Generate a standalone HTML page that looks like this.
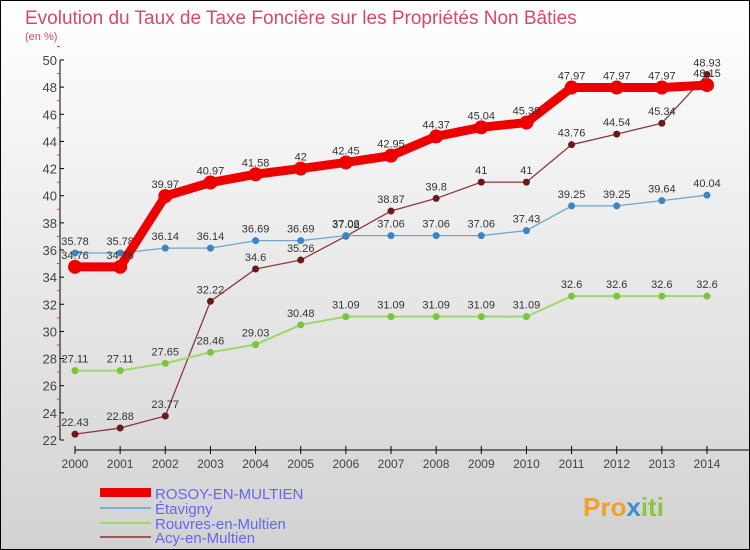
<!DOCTYPE html>
<html><head><meta charset="utf-8"><style>
body{margin:0;width:750px;height:550px;overflow:hidden}
svg{display:block;font-family:"Liberation Sans",sans-serif}
</style></head><body>
<svg id="c" width="750" height="550">
<defs><linearGradient id="bg" x1="0" y1="0" x2="0" y2="1"><stop offset="0" stop-color="#ffffff"/><stop offset="1" stop-color="#d2d2d2"/></linearGradient></defs>
<rect x="0.5" y="0.5" width="749" height="549" fill="url(#bg)" stroke="#000"/>
<text x="25" y="24" font-size="19" fill="#d9476a">Evolution du Taux de Taxe Foncière sur les Propriétés Non Bâties</text>
<text x="25" y="40" font-size="11" fill="#d9476a">(en %)</text>
<g id="axes"></g><g id="series"></g>
<g>
<rect x="100" y="488" width="51" height="9" fill="#e00"/>
<text x="155" y="499" font-size="15" fill="#6666ee">ROSOY-EN-MULTIEN</text>
<line x1="100" y1="508" x2="151" y2="508" stroke="#7aaed4" stroke-width="2"/>
<text x="155" y="514" font-size="15" fill="#6666ee">Étavigny</text>
<line x1="100" y1="523" x2="151" y2="523" stroke="#9bd96a" stroke-width="2"/>
<text x="155" y="529" font-size="15" fill="#6666ee">Rouvres-en-Multien</text>
<line x1="100" y1="537" x2="151" y2="537" stroke="#9a5a5a" stroke-width="2"/>
<text x="155" y="543" font-size="15" fill="#6666ee">Acy-en-Multien</text>
</g>
<text x="583" y="516" font-size="26" font-weight="bold" fill="#f0a030">Pro<tspan fill="#3a8fd0">x</tspan><tspan fill="#8cc63f">iti</tspan></text>
</svg>
<script>
const years=[2000,2001,2002,2003,2004,2005,2006,2007,2008,2009,2010,2011,2012,2013,2014];
const rosoy=[34.76,34.76,39.97,40.97,41.58,42,42.45,42.95,44.37,45.04,45.39,47.97,47.97,47.97,48.15];
const etavigny=[35.78,35.78,36.14,36.14,36.69,36.69,37.06,37.06,37.06,37.06,37.43,39.25,39.25,39.64,40.04];
const rouvres=[27.11,27.11,27.65,28.46,29.03,30.48,31.09,31.09,31.09,31.09,31.09,32.6,32.6,32.6,32.6];
const acy=[22.43,22.88,23.77,32.22,34.6,35.26,37.02,38.87,39.8,41,41,43.76,44.54,45.34,48.93];
const yTicks=[22,24,26,28,30,32,34,36,38,40,42,44,46,48,50];
const NS="http://www.w3.org/2000/svg";
const X=i=>75+i*(707-75)/(years.length-1);
const Y=v=>440-(v-22)*(380/28);
function el(t,a,p){const e=document.createElementNS(NS,t);for(const k in a)e.setAttribute(k,a[k]);p.appendChild(e);return e;}
const ax=document.getElementById('axes');
const ya=el('line',{x1:60,y1:60,x2:60,y2:440,stroke:'#000'},ax);


yTicks.forEach(v=>{el('line',{x1:60,y1:Y(v),x2:64,y2:Y(v),stroke:'#000'},ax);
el('line',{x1:57,y1:Y(v+1),x2:60,y2:Y(v+1),stroke:'#e33'},ax);
const t=el('text',{x:57,y:Y(v)+5,'font-size':13,'text-anchor':'end',fill:'#444'},ax);t.textContent=v;

});
const xa=el('line',{x1:75,y1:450,x2:750,y2:450,stroke:'#000'},ax);


years.forEach((y,i)=>{el('line',{x1:X(i),y1:446,x2:X(i),y2:454,stroke:'#000'},ax);
const t=el('text',{x:X(i),y:468,'font-size':12,'text-anchor':'middle',fill:'#444'},ax);t.textContent=y;

});
const sg=document.getElementById('series');
function draw(name,vals,color,w,r,dot){
const g=el('g',{},sg);


el('polyline',{points:vals.map((v,i)=>X(i)+','+Y(v)).join(' '),fill:'none',stroke:color,'stroke-width':w,'stroke-linejoin':'round'},g);
vals.forEach((v,i)=>{const c=el('circle',{cx:X(i),cy:Y(v),r:r,fill:dot},g);


const t=el('text',{x:X(i),y:Y(v)-8,'font-size':11,'text-anchor':'middle',fill:'#333'},g);t.textContent=v;

});}
draw('acy',acy,'#8b3a3a',1.3,3.5,'#6a1a1a');
draw('rouvres',rouvres,'#9bd96a',2,3.5,'#7cc43c');
draw('etavigny',etavigny,'#6aa6d4',1.3,3.5,'#3a86c4');
draw('rosoy',rosoy,'#e00',9,7,'#e00');
</script>
</body></html>
